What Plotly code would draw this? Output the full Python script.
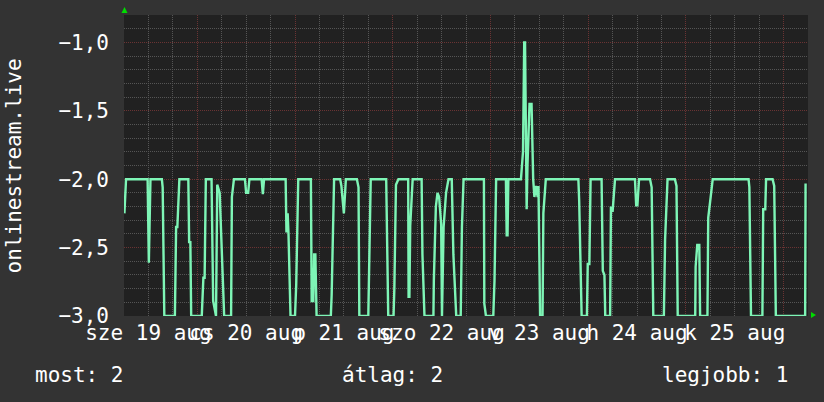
import pandas as pd
import plotly.graph_objects as go

# ---- data ----
start = "2015-08-19 06:00"
end = "2015-08-26 06:00"

hours = [0.1, 0.5, 5.8, 6.1, 6.5, 9.3, 9.5, 9.9, 12.5, 12.8, 13.1, 13.6,
         15.8, 16.0, 16.3, 16.5, 19.1, 19.5, 19.8, 20.1,
         21.5, 21.9, 22.6, 22.9, 23.5, 24.0, 24.6, 26.3, 26.5, 27.0,
         29.7, 30.0, 30.5, 30.8, 33.8, 34.1, 34.4,
         39.7, 39.9, 40.2, 40.4, 40.9, 42.0, 42.3, 42.8,
         45.9, 46.1, 46.5, 46.7, 47.0, 47.3, 50.8, 51.0, 51.6,
         53.1, 53.4, 54.0, 54.5, 57.2, 57.6, 57.8, 60.0, 60.3, 60.6,
         64.4, 64.5, 64.9, 66.2, 66.4, 66.8, 67.4,
         69.8, 69.9, 70.1, 70.3, 70.9, 73.1, 73.3, 73.8,
         76.0, 76.1, 76.6, 77.0, 77.4, 77.9, 78.1, 78.5, 79.1, 79.7,
         80.5, 80.9, 81.6, 82.7, 83.0, 83.4, 88.4, 88.5, 88.9,
         90.7, 91.0, 91.4, 93.8, 94.0, 94.2, 94.4,
         97.5, 97.8, 98.0, 98.3, 98.5, 98.9, 99.1, 99.6, 100.1, 100.5,
         100.8, 101.2, 101.6, 101.8, 102.2, 102.8, 103.0, 103.6,
         111.6, 111.8, 112.4, 113.7, 113.9, 114.3, 114.6,
         117.3, 117.6, 118.0, 118.2, 119.4, 119.6, 120.0, 120.6,
         125.5, 125.8, 126.1, 126.5, 129.2, 129.6, 130.0,
         132.6, 132.9, 133.5, 135.3, 135.7, 136.0,
         140.3, 140.4, 140.8, 141.3, 141.5, 143.3, 143.5, 144.1, 144.6,
         153.4, 153.6, 154.0, 156.8, 157.0, 157.5, 157.7,
         159.3, 159.7, 160.1, 167.3, 167.4, 167.7]

values = [-2.25, -2.0, -2.0, -2.61, -2.0, -2.0, -2.06, -3.0, -3.0, -2.35, -2.35, -2.0,
          -2.0, -2.46, -2.46, -3.0, -3.0, -2.72, -2.72, -2.0,
          -2.0, -2.89, -3.0, -2.04, -2.1, -2.47, -3.0, -3.0, -2.13, -2.0,
          -2.0, -2.1, -2.1, -2.0, -2.0, -2.11, -2.0,
          -2.0, -2.39, -2.25, -2.4, -3.0, -3.0, -2.77, -2.0,
          -2.0, -2.89, -2.89, -2.55, -2.55, -3.0, -3.0, -2.85, -2.0,
          -2.0, -2.05, -2.25, -2.0, -2.0, -2.06, -3.0, -3.0, -2.34, -2.0,
          -2.0, -2.26, -3.0, -3.0, -2.8, -2.04, -2.0,
          -2.0, -2.86, -2.86, -2.34, -2.0, -2.0, -2.55, -3.0,
          -3.0, -2.74, -2.2, -2.1, -2.13, -2.33, -3.0, -2.35, -2.1, -2.0,
          -2.0, -2.55, -3.0, -3.0, -2.35, -2.0, -2.0, -2.91, -3.0,
          -3.0, -2.74, -2.0, -2.0, -2.41, -2.41, -2.0,
          -2.0, -1.85, -1.8, -1.0, -1.0, -2.22, -1.9, -1.45, -1.45, -2.0,
          -2.13, -2.05, -2.13, -2.05, -3.0, -3.0, -2.25, -2.0,
          -2.0, -2.16, -3.0, -3.0, -2.62, -2.62, -2.0,
          -2.0, -2.67, -2.7, -3.0, -3.0, -2.2, -2.24, -2.0,
          -2.0, -2.19, -2.19, -2.0, -2.0, -2.06, -3.0,
          -3.0, -2.44, -2.0, -2.0, -2.05, -3.0,
          -3.0, -2.64, -2.48, -2.48, -3.0, -3.0, -2.28, -2.13, -2.0,
          -2.0, -2.06, -3.0, -3.0, -2.22, -2.22, -2.0,
          -2.0, -2.05, -3.0, -3.0, -2.04, -2.04]

day_label_pos = ["2015-08-19 12:00", "2015-08-20 12:00", "2015-08-21 12:00",
                 "2015-08-22 12:00", "2015-08-23 12:00", "2015-08-24 12:00",
                 "2015-08-25 12:00"]
day_labels = ["sze 19 aug", "cs 20 aug", "p 21 aug", "szo 22 aug",
              "v 23 aug", "h 24 aug", "k 25 aug"]

y_title = "onlinestream.live"
stat_texts = ["most: 2", "átlag: 2", "legjobb: 1"]

# ---- figure ----
times = pd.Timestamp(start) + pd.to_timedelta(hours, unit="h")

FONT = "DejaVu Sans Mono"
FS = 21
BG = "#333333"
PLOT_BG = "#212121"
MINOR = "#555555"
MAJOR = "#6a3333"
LINE = "#7ef5b6"

fig = go.Figure()
fig.add_trace(go.Scatter(x=times, y=values, mode="lines",
                         line=dict(color=LINE, width=2.4),
                         hoverinfo="skip", showlegend=False))
# carrier for the label axis
fig.add_trace(go.Scatter(x=[pd.Timestamp(start), pd.Timestamp(end)], y=[None, None],
                         xaxis="x2", mode="lines", showlegend=False, hoverinfo="skip"))

fig.update_layout(
    width=824, height=402,
    paper_bgcolor=BG, plot_bgcolor=PLOT_BG,
    margin=dict(l=124, r=16, t=15, b=86),
    separators=", ",
    font=dict(family=FONT, size=FS, color="#ffffff"),
    xaxis=dict(
        type="date", range=[start, end],
        showticklabels=False, ticks="",
        tick0="2015-08-19 00:00", dtick=86400000,
        showgrid=True, gridcolor=MAJOR, griddash="1px,1px", gridwidth=1,
        minor=dict(dtick=21600000, tick0="2015-08-19 00:00", showgrid=True,
                   gridcolor=MINOR, griddash="1px,1px", gridwidth=1),
        showline=False, zeroline=False,
    ),
    xaxis2=dict(
        type="date", range=[start, end], overlaying="x", side="bottom",
        anchor="y", tickmode="array", tickvals=day_label_pos, ticktext=day_labels,
        tickangle=0,
        showgrid=False, ticks="", showline=False, zeroline=False,
        tickfont=dict(family=FONT, size=FS, color="#ffffff"),
        ticklabelstandoff=2,
    ),
    yaxis=dict(
        range=[-3.0, -0.8], tick0=-3.0, dtick=0.5, tickformat=".1f",
        showgrid=True, gridcolor=MAJOR, griddash="1px,1px", gridwidth=1,
        minor=dict(dtick=0.1, showgrid=True, gridcolor=MINOR,
                   griddash="1px,1px", gridwidth=1),
        zeroline=False, showline=False, ticks="",
        tickfont=dict(family=FONT, size=FS, color="#ffffff"),
        ticklabelstandoff=14,
    ),
)

# y title
fig.add_annotation(text=y_title, xref="paper", yref="paper", x=-0.161, y=0.5,
                   textangle=-90, showarrow=False, xanchor="center", yanchor="middle",
                   font=dict(family=FONT, size=FS, color="#ffffff"))

# summary line
fig.add_annotation(text=stat_texts[0], xref="paper", yref="paper", x=-0.133, y=-0.196,
                   xanchor="left", yanchor="middle", showarrow=False)
fig.add_annotation(text=stat_texts[1], xref="paper", yref="paper", x=0.3926, y=-0.196,
                   xanchor="center", yanchor="middle", showarrow=False)
fig.add_annotation(text=stat_texts[2], xref="paper", yref="paper", x=0.974, y=-0.196,
                   xanchor="right", yanchor="middle", showarrow=False)

# axis arrows (decoration)
fig.add_shape(type="path", xref="paper", yref="paper", xsizemode="pixel",
              ysizemode="pixel", xanchor=0, yanchor=1,
              path="M -2.5,2 L 3.5,2 L 0.5,8 Z", fillcolor="#00dd00", line_width=0)
fig.add_shape(type="path", xref="paper", yref="paper", xsizemode="pixel",
              ysizemode="pixel", xanchor=1, yanchor=0,
              path="M 3,-2 L 3,4 L 8,1 Z", fillcolor="#00dd00", line_width=0)

fig.write_html("out.html", config={"displayModeBar": False},
               post_script="document.body.style.margin='0';")
